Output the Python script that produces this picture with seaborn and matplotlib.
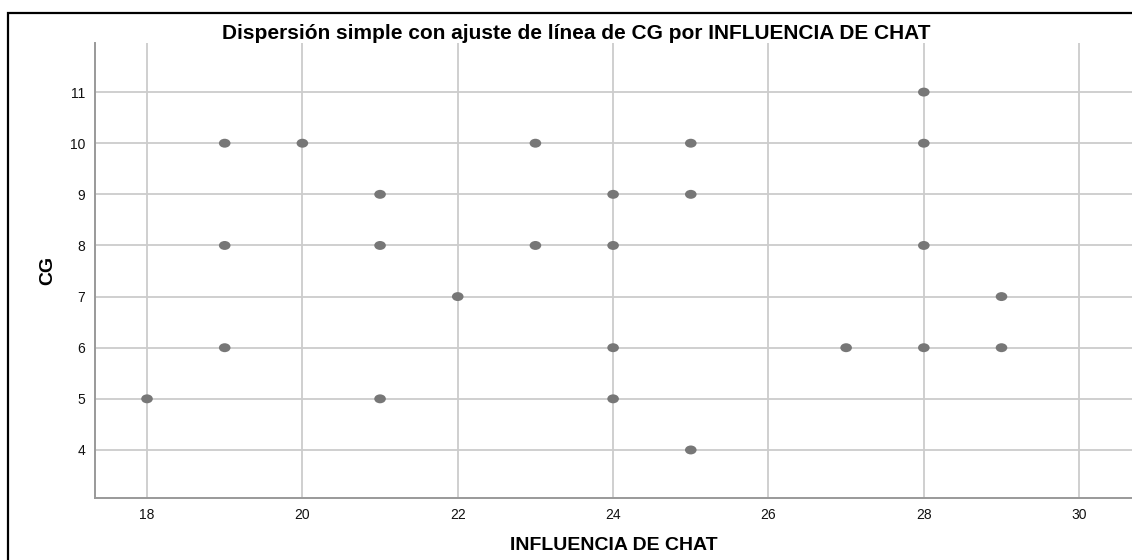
import matplotlib
matplotlib.use('Agg')
import matplotlib.pyplot as plt
from matplotlib.patches import Rectangle
from matplotlib.path import Path
from matplotlib.transforms import Affine2D
import pandas as pd
import seaborn as sns

# ── DATA ─────────────────────────────────────────────────────────────────────
influencia = [19, 20, 23, 25, 28, 28,
              21, 24, 25,
              19, 21, 23, 24, 28,
              22, 29,
              19, 24, 27, 28, 29,
              18, 21, 24,
              25]
cg = [10, 10, 10, 10, 10, 11,
      9, 9, 9,
      8, 8, 8, 8, 8,
      7, 7,
      6, 6, 6, 6, 6,
      5, 5, 5,
      4]
x_ticks = [18, 20, 22, 24, 26, 28, 30]
y_ticks = [4, 5, 6, 7, 8, 9, 10, 11]

df = pd.DataFrame({'INFLUENCIA DE CHAT': influencia, 'CG': cg})

# ── STYLE ────────────────────────────────────────────────────────────────────
sns.set_style('white')
plt.rcParams['font.family'] = ['Liberation Sans', 'DejaVu Sans']

fig = plt.figure(figsize=(11.32, 5.6), dpi=100)
ax = fig.add_axes([0.0839, 0.1107, 0.9161, 0.8125])

# marcador elíptico (más ancho que alto), como en SPSS
ellipse = Path.unit_circle().transformed(Affine2D().scale(1.3, 1.0))

sns.scatterplot(data=df, x='INFLUENCIA DE CHAT', y='CG', ax=ax,
                marker=ellipse, s=70, color='#777777', edgecolor='none',
                zorder=3)

ax.set_xlim(17.33, 30.68)
ax.set_ylim(3.06, 11.96)
ax.set_xticks(x_ticks)
ax.set_yticks(y_ticks)
ax.grid(True, color='#cccccc', linewidth=1.3)
ax.set_axisbelow(True)
ax.tick_params(axis='both', length=0, labelsize=10, colors='#111111', pad=7)

for side in ['top', 'right']:
    ax.spines[side].set_visible(False)
for side in ['left', 'bottom']:
    ax.spines[side].set_color('#999999')
    ax.spines[side].set_linewidth(1.4)

ax.set_xlabel('INFLUENCIA DE CHAT', fontsize=14, fontweight='bold',
              labelpad=11, color='black')
ax.set_ylabel('CG', fontsize=14, fontweight='bold', labelpad=10, color='black')

fig.text(0.509, 0.940, 'Dispersión simple con ajuste de línea de CG por INFLUENCIA DE CHAT',
         ha='center', va='center', fontsize=15, fontweight='bold', color='black')

# marco negro exterior
fig.patches.append(Rectangle((8 / 1132, -0.1), 1.2, 1.1 - 13 / 560,
                             transform=fig.transFigure, fill=False,
                             edgecolor='black', linewidth=1.6))

fig.savefig('out.png', dpi=100)
